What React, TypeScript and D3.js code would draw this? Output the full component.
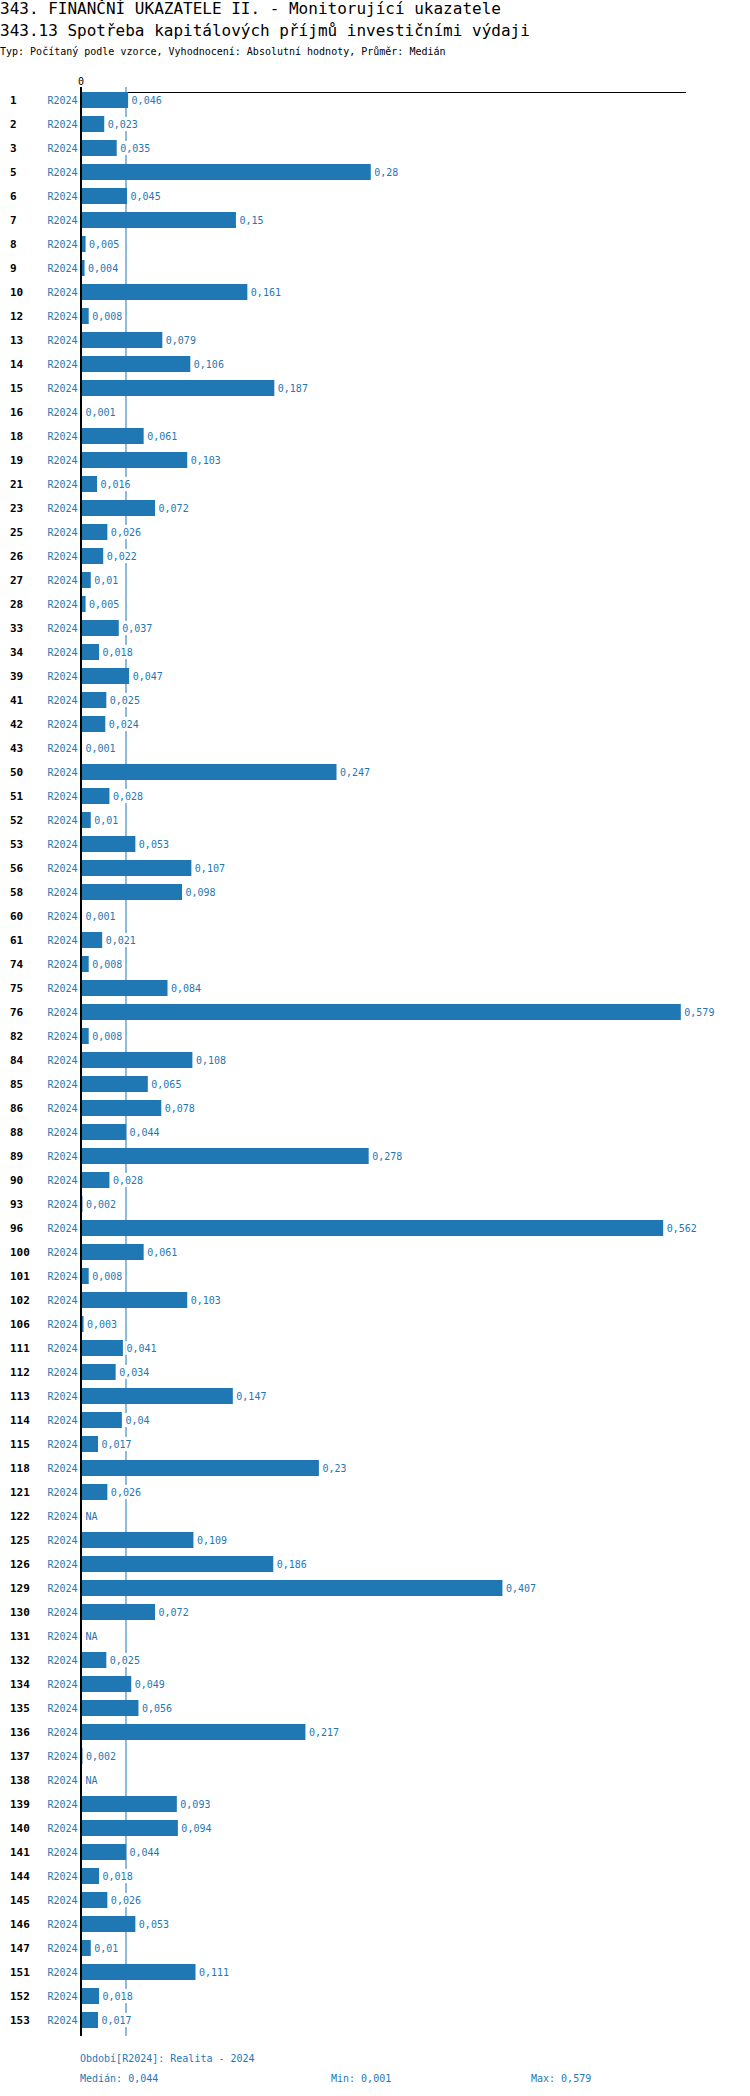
import React from "react";
import * as d3 from "d3";

const titleLines = [
  "343. FINANČNÍ UKAZATELE II. - Monitorující ukazatele",
  "343.13 Spotřeba kapitálových příjmů investičními výdaji",
];
const subtitle = "Typ: Počítaný podle vzorce, Vyhodnocení: Absolutní hodnoty, Průměr: Medián";
const periodCode = "R2024";
const periodLabel = "Období[R2024]: Realita - 2024";

const categories = [
  "1","2","3","5","6","7","8","9","10","12",
  "13","14","15","16","18","19","21","23","25","26",
  "27","28","33","34","39","41","42","43","50","51",
  "52","53","56","58","60","61","74","75","76","82",
  "84","85","86","88","89","90","93","96","100","101",
  "102","106","111","112","113","114","115","118","121","122",
  "125","126","129","130","131","132","134","135","136","137",
  "138","139","140","141","144","145","146","147","151","152",
  "153",
];

const values: (number | null)[] = [
  0.046,0.023,0.035,0.28,0.045,0.15,0.005,0.004,0.161,0.008,
  0.079,0.106,0.187,0.001,0.061,0.103,0.016,0.072,0.026,0.022,
  0.01,0.005,0.037,0.018,0.047,0.025,0.024,0.001,0.247,0.028,
  0.01,0.053,0.107,0.098,0.001,0.021,0.008,0.084,0.579,0.008,
  0.108,0.065,0.078,0.044,0.278,0.028,0.002,0.562,0.061,0.008,
  0.103,0.003,0.041,0.034,0.147,0.04,0.017,0.23,0.026,null,
  0.109,0.186,0.407,0.072,null,0.025,0.049,0.056,0.217,0.002,
  null,0.093,0.094,0.044,0.018,0.026,0.053,0.01,0.111,0.018,
  0.017,
];

const BLUE = "#1f77b4";
const MONO = "'DejaVu Sans Mono', 'Liberation Mono', monospace";

const fmt = (v: number) => String(+v.toFixed(3)).replace(".", ",");

export default function App() {
  const W = 750, H = 2096;
  const valid = values.filter((v): v is number => v != null);
  const med = d3.median(valid) as number;
  const mn = d3.min(valid) as number;
  const mx = d3.max(valid) as number;

  const x = d3.scaleLinear().domain([0, mx]).range([80.4, 680.8]);
  const y = d3
    .scaleBand<string>()
    .domain(categories)
    .range([88, 88 + categories.length * 24])
    .paddingInner(1 / 3)
    .paddingOuter(1 / 6);

  const axisX = 81;
  const axisTop = 87;
  const axisBottom = 2036;
  const bw = y.bandwidth();
  const charW = 6.02;

  return (
    <svg
      width={W}
      height={H}
      style={{ position: "absolute", left: 0, top: 0, background: "#fff" }}
      fontFamily={MONO}
    >
      <text x={0} y={14} fontSize={16} fill="#000">{titleLines[0]}</text>
      <text x={0} y={36} fontSize={16} fill="#000">{titleLines[1]}</text>
      <text x={0} y={55} fontSize={10} fill="#000">{subtitle}</text>

      {/* top axis */}
      <text x={axisX} y={85} fontSize={10} textAnchor="middle" fill="#000">0</text>
      <line x1={axisX} x2={686} y1={92.5} y2={92.5} stroke="#000" strokeWidth={1} />

      {/* median line */}
      <line x1={x(med)} x2={x(med)} y1={axisTop} y2={axisBottom} stroke={BLUE} strokeWidth={1} />

      {categories.map((c, i) => {
        const v = values[i];
        const cy = (y(c) as number) + bw / 2;
        const x0 = x(0);
        const barEnd = v == null ? 82 : Math.max(x(v), 82);
        const label = v == null ? "NA" : fmt(v);
        const lx = barEnd + 3.5;
        return (
          <g key={c}>
            <text x={10} y={cy + 4} fontSize={11} fontWeight="bold" fill="#000">{c}</text>
            <text x={77.5} y={cy + 3.5} fontSize={10} textAnchor="end" fill={BLUE}>{periodCode}</text>
            {v != null && (
              <rect x={x0} y={y(c)} width={Math.max(0, x(v) - x0)} height={bw} fill={BLUE} />
            )}
            <rect x={lx - 1} y={cy - 7} width={label.length * charW + 2} height={14} fill="#fff" />
            <text x={lx} y={cy + 3.5} fontSize={10} fill={BLUE}>{label}</text>
          </g>
        );
      })}

      {/* vertical axis */}
      <line x1={axisX} x2={axisX} y1={axisTop} y2={axisBottom} stroke="#000" strokeWidth={2} />

      {/* footer */}
      <text x={80} y={2062} fontSize={10} fill={BLUE}>{periodLabel}</text>
      <text x={80} y={2082} fontSize={10} fill={BLUE}>{"Medián: " + fmt(med)}</text>
      <text x={331} y={2082} fontSize={10} fill={BLUE}>{"Min: " + fmt(mn)}</text>
      <text x={531} y={2082} fontSize={10} fill={BLUE}>{"Max: " + fmt(mx)}</text>
    </svg>
  );
}
